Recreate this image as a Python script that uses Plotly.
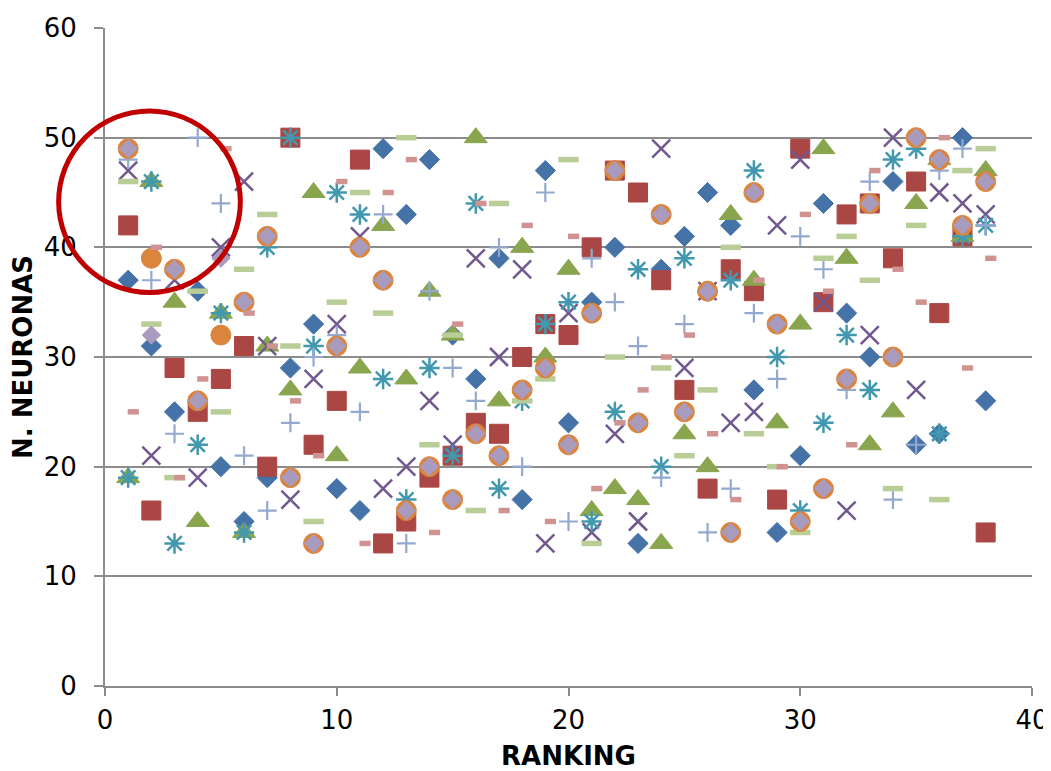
import plotly.graph_objects as go

# Ranking positions 1..38
ranking = list(range(1, 39))

# Neuron counts per series (one value per ranking)
serie_rombo = [37, 31, 25, 36, 20, 15, 19, 29, 33, 18, 16, 49, 43, 48, 32, 28, 39, 17, 47, 24,
               35, 40, 13, 38, 41, 45, 42, 27, 14, 21, 44, 34, 30, 46, 22, 23, 50, 26]
serie_cuadrado = [42, 16, 29, 25, 28, 31, 20, 50, 22, 26, 48, 13, 15, 19, 21, 24, 23, 30, 33, 32,
                  40, 47, 45, 37, 27, 18, 38, 36, 17, 49, 35, 43, 44, 39, 46, 34, 41, 14]
serie_triangulo = [19, 46, 35, 15, 34, 14, 31, 27, 45, 21, 29, 42, 28, 36, 32, 50, 26, 40, 30, 38,
                   16, 18, 17, 13, 23, 20, 43, 37, 24, 33, 49, 39, 22, 25, 44, 48, 41, 47]
serie_aspa = [47, 21, 37, 19, 40, 46, 31, 17, 28, 33, 41, 18, 20, 26, 22, 39, 30, 38, 13, 34,
              14, 23, 15, 49, 29, 36, 24, 25, 42, 48, 35, 16, 32, 50, 27, 45, 44, 43]
serie_asterisco = [19, 46, 13, 22, 34, 14, 40, 50, 31, 45, 43, 28, 17, 29, 21, 44, 18, 26, 33, 35,
                   15, 25, 38, 20, 39, 36, 37, 47, 30, 16, 24, 32, 27, 48, 49, 23, 41, 42]
serie_cruz = [48, 37, 23, 50, 44, 21, 16, 24, 30, 32, 25, 43, 13, 36, 29, 26, 40, 20, 45, 15,
              39, 35, 31, 19, 33, 14, 18, 34, 28, 41, 38, 27, 46, 17, 22, 47, 49, 42]
serie_guion_corto = [25, 40, 19, 28, 49, 34, 31, 26, 21, 46, 13, 45, 48, 14, 33, 44, 16, 42, 15, 41,
                     18, 24, 27, 30, 32, 23, 17, 37, 20, 43, 36, 22, 47, 38, 35, 50, 29, 39]
serie_guion_largo = [46, 33, 19, 36, 25, 38, 43, 31, 15, 35, 45, 34, 50, 22, 32, 16, 44, 26, 28, 48,
                     13, 30, 24, 29, 21, 27, 40, 23, 20, 14, 39, 41, 37, 18, 42, 17, 47, 49]
serie_circulo = [49, 39, 38, 26, 32, 35, 41, 19, 13, 31, 40, 37, 16, 20, 17, 23, 21, 27, 29, 22,
                 34, 47, 24, 43, 25, 36, 14, 45, 33, 15, 18, 28, 44, 30, 50, 48, 42, 46]
serie_rombo_claro = [49, 32, 38, 26, 39, 35, 41, 19, 13, 31, 40, 37, 16, 20, 17, 23, 21, 27, 29, 22,
                     34, 47, 24, 43, 25, 36, 14, 45, 33, 15, 18, 28, 44, 30, 50, 48, 42, 46]

FONT = "Verdana, DejaVu Sans, sans-serif"
GRID = "#8c8c8c"

# (values, symbol, size, colour, line width, axis) in drawing order
series = [
    (serie_rombo, "diamond", 15.5, "#4572A7", 1, "x"),
    (serie_cuadrado, "square", 19, "#AA4643", 1, "x"),
    (serie_triangulo, "triangle-up", 20, "#89A54E", 1, "x"),
    (serie_aspa, "x-thin", 18, "#71588F", 2.5, "x"),
    (serie_asterisco, "asterisk", 17, "#4198AF", 2.5, "x"),
    (serie_cruz, "cross-thin", 13.5, "#93A9CF", 2.2, "x"),
    # Excel draws the short dash slightly right of centre
    (serie_guion_corto, "line-ew", 8, "#D19392", 5.5, "x2"),
    (serie_guion_largo, "line-ew", 14.5, "#B9CD96", 5.5, "x"),
    (serie_circulo, "circle", 20, "#DB843D", 1, "x"),
    (serie_rombo_claro, "diamond", 14, "#A99BBD", 1, "x"),
]

fig = go.Figure()

for values, symbol, size, colour, lw, axis in series:
    fig.add_trace(go.Scatter(
        x=ranking,
        y=values,
        mode="markers",
        xaxis=axis,
        marker=dict(symbol=symbol, size=size, color=colour,
                    line=dict(color=colour, width=lw)),
        showlegend=False,
        hoverinfo="skip",
    ))

# Red circle highlighting the top ranked group (paper refs so it is not clipped)
fig.add_shape(
    type="circle", xref="paper", yref="paper",
    x0=-0.05, x1=0.146, y0=0.598, y1=0.874,
    line=dict(color="#C00000", width=5),
)

# page body adds an 8px margin, so the figure is 8px smaller than the window
fig.update_layout(
    width=1043,
    height=763,
    margin=dict(l=97, r=19, t=20, b=85),
    paper_bgcolor="white",
    plot_bgcolor="white",
    font=dict(family=FONT, size=26, color="black"),
    xaxis=dict(
        range=[0, 40], dtick=10, tick0=0, automargin=False,
        showgrid=False, zeroline=False,
        showline=True, linecolor=GRID, linewidth=2,
        ticks="outside", ticklen=8, tickwidth=2, tickcolor=GRID,
        ticklabelstandoff=2,
        title=dict(text="<b>RANKING</b>", standoff=19,
                   font=dict(family=FONT, size=26)),
    ),
    xaxis2=dict(
        range=[-0.22, 39.78], overlaying="x", visible=False,
    ),
    yaxis=dict(
        range=[0, 60], dtick=10, tick0=0, automargin=False,
        showgrid=True, gridcolor=GRID, gridwidth=2, zeroline=False,
        showline=True, linecolor=GRID, linewidth=2,
        ticks="outside", ticklen=9, tickwidth=2, tickcolor=GRID,
        ticklabelstandoff=12,
        title=dict(text="<b>N. NEURONAS</b>", standoff=7,
                   font=dict(family=FONT, size=26)),
    ),
)

fig.write_html("out.html")
